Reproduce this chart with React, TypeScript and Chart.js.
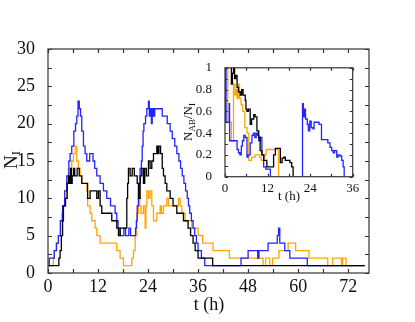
import React, { useEffect, useRef } from "react";
import { Chart, registerables } from "chart.js";
Chart.register(...registerables);

const FONT = '"Liberation Serif", "Times New Roman", serif';
const BLUE = "#2323ff";
const ORANGE = "#ffa500";
const BLACK = "#000000";
const FRAME = "#333333";

// ---- main panel: N_I(t) (step series: time of change, value after change)
const blackT = [0, 2.6, 2.9, 3.2, 3.5, 3.7, 4.2, 4.6, 4.9, 5.2, 5.4, 5.6, 5.8, 6.1, 6.4, 7.0, 7.5, 8.1, 9.5, 10.1, 11.7, 12.1, 12.5, 12.9, 15.3, 16.5, 16.9, 17.3, 18.9, 19.1, 19.3, 19.7, 20.2, 20.7, 21.4, 21.7, 22.1, 22.5, 22.9, 23.2, 23.6, 24.1, 24.5, 24.9, 25.3, 26.1, 26.4, 26.6, 27.0, 27.4, 27.7, 28.1, 28.5, 29.3, 30.0, 30.9, 32.5, 33.6, 34.2, 34.8, 35.3, 36.0, 39.5, 76.0];
const blackN = [1, 2, 3, 5, 7, 9, 10, 12, 13, 12, 14, 12, 13, 14, 13, 14, 13, 12, 10, 11, 10, 11, 9, 8, 7, 6, 5, 6, 10, 12, 14, 13, 14, 13, 12, 10, 13, 14, 12, 14, 13, 15, 14, 15, 16, 17, 16, 17, 16, 14, 13, 12, 11, 10, 9, 8, 7, 6, 5, 4, 3, 2, 1, 1];

const blueT = [0, 0.3, 1.5, 2.0, 2.5, 3.0, 3.5, 4.0, 4.5, 5.0, 5.3, 5.7, 6.2, 6.6, 6.9, 7.2, 7.5, 7.8, 8.1, 8.5, 8.9, 9.3, 10.0, 10.8, 11.2, 11.7, 12.5, 13.3, 14.1, 15.0, 16.1, 16.5, 16.8, 17.3, 18.2, 18.6, 19.4, 19.8, 21.0, 21.2, 21.4, 21.7, 21.9, 22.1, 22.4, 22.6, 22.8, 23.0, 23.4, 23.7, 24.1, 24.3, 24.6, 24.8, 25.0, 25.3, 25.6, 27.4, 28.6, 29.3, 29.8, 30.4, 30.9, 31.4, 31.8, 32.2, 32.6, 33.0, 33.4, 33.7, 34.0, 34.4, 34.8, 35.2, 35.6, 36.0, 36.8, 37.6, 46.3, 48.0, 50.3, 50.6, 52.8, 55.0, 55.3, 55.6, 56.8, 58.0, 62.2, 76.0];
const blueN = [1, 2, 3, 4, 5, 7, 9, 11, 13, 15, 16, 17, 19, 20, 21, 23, 22, 21, 19, 17, 16, 15, 16, 15, 14, 13, 12, 11, 10, 9, 8, 7, 6, 5, 6, 5, 6, 5, 6, 7, 9, 10, 12, 14, 15, 17, 19, 20, 21, 22, 23, 21, 22, 20, 22, 21, 22, 21, 20, 19, 18, 17, 16, 15, 14, 13, 12, 11, 10, 9, 8, 7, 6, 5, 4, 3, 2, 1, 2, 3, 2, 3, 4, 5, 6, 4, 3, 2, 1, 1];

const orangeT = [0, 1.3, 1.5, 2.1, 2.5, 2.9, 3.3, 3.7, 4.1, 4.5, 4.9, 5.7, 6.1, 6.5, 6.9, 7.3, 7.7, 8.1, 9.3, 9.5, 10.1, 10.5, 11.3, 11.7, 12.5, 16.5, 17.3, 18.1, 20.1, 20.5, 20.9, 21.3, 21.7, 22.0, 22.3, 22.9, 23.3, 23.5, 23.7, 24.1, 24.5, 24.9, 25.3, 26.1, 26.9, 27.2, 27.7, 28.5, 28.9, 31.3, 31.7, 32.1, 32.9, 34.5, 36.0, 37.1, 39.6, 43.5, 51.6, 52.2, 53.2, 53.9, 55.4, 57.6, 59.4, 62.6, 67.1, 68.3, 70.4, 70.7, 71.5, 73.4];
const orangeN = [1, 2, 3, 4, 5, 7, 8, 9, 10, 12, 14, 15, 16, 17, 15, 14, 13, 12, 11, 9, 8, 7, 6, 5, 4, 3, 2, 1, 2, 3, 5, 8, 11, 9, 8, 9, 6, 9, 11, 10, 11, 9, 7, 8, 9, 8, 9, 10, 9, 10, 9, 8, 7, 6, 5, 4, 3, 2, 1, 2, 1, 2, 3, 4, 3, 2, 1, 2, 1, 2, 1, 1];

// ---- inset: N_AB/N_I (t)
const insetBlueT = [0, 0.1, 0.15, 0.2, 0.25, 0.3, 1.2, 1.3, 3.4, 3.8, 4.2, 4.6, 4.9, 5.3, 5.7, 6.2, 6.5, 7.1, 7.6, 8.0, 8.4, 8.8, 9.2, 9.5, 9.9, 10.4, 10.9, 11.5, 12.8, 12.85, 21.8, 21.85, 22.1, 22.4, 22.7, 23.2, 23.5, 23.9, 24.3, 24.8, 25.1, 25.9, 26.5, 27.2, 28.6, 29.0, 29.6, 30.1, 30.5, 30.9, 31.5, 31.9, 32.4, 32.9, 33.3, 33.6];
const insetBlueV = [1, 0.5, 1, 0.5, 1, 0.5, 0.67, 0.33, 0.25, 0.22, 0.2, 0.28, 0.33, 0.38, 0.36, 0.18, 0.2, 0.31, 0.38, 0.4, 0.36, 0.4, 0.38, 0.33, 0.36, 0.2, 0.09, 0.07, 0, null, 0, 0.67, 0.55, 0.62, 0.53, 0.48, 0.42, 0.51, 0.45, 0.44, 0.5, 0.5, 0.48, 0.34, 0.34, 0.31, 0.27, 0.24, 0.22, 0.24, 0.18, 0.2, 0.19, 0.15, 0.09, 0];

const insetBlackT = [1.5, 1.8, 2.1, 2.4, 2.7, 3.0, 3.4, 3.8, 4.3, 4.7, 5.1, 5.7, 5.9, 6.2, 6.6, 7.1, 7.5, 8.1, 8.5, 9.0, 9.5, 9.9, 10.4, 10.9, 11.8, 13.7, 14.2, 15.6, 16.1, 16.6, 17.0, 18.3, 18.8, 19.2];
const insetBlackV = [1, 0.85, 0.95, 1, 0.9, 0.93, 0.82, 0.78, 0.75, 0.8, 0.75, 0.7, 0.62, 0.6, 0.62, 0.48, 0.53, 0.57, 0.55, 0.42, 0.36, 0.24, 0.2, 0.15, 0.09, 0.2, 0.26, 0.13, 0.17, 0.18, 0.15, 0.13, 0.09, 0];

const insetOrangeT = [0.7, 0.8, 1.8, 2.4, 2.8, 3.1, 3.4, 3.7, 4.1, 4.5, 5.0, 5.6, 6.2, 6.7, 7.5, 8.5, 9.8, 10.2, 10.8, 11.2, 11.6, 15.1];
const insetOrangeV = [1, 0.5, 0.33, 0.85, 0.75, 0.8, 0.72, 0.85, 0.72, 0.66, 0.6, 0.45, 0.4, 0.15, 0.18, 0.2, 0.18, 0.15, 0.17, 0.2, 0.25, 0];

const mainXLabelStep = 12;
const mainYLabelStep = 5;
const insetXLabelStep = 12;

function steps(t: number[], v: (number | null)[]) {
  return t.map((x, i) => ({ x, y: v[i] }));
}

function line(label: string, data: any, color: string) {
  return {
    label,
    data,
    borderColor: color,
    backgroundColor: color,
    borderWidth: 1.3,
    pointRadius: 0,
    stepped: true,
    spanGaps: false,
  };
}

type Part = { text: string; size: number; dy: number };

function drawRich(ctx: CanvasRenderingContext2D, cx: number, cy: number, parts: Part[], rotate: boolean) {
  ctx.save();
  ctx.translate(cx, cy);
  if (rotate) ctx.rotate(-Math.PI / 2);
  let total = 0;
  for (const p of parts) {
    ctx.font = `${p.size}px ${FONT}`;
    total += ctx.measureText(p.text).width;
  }
  let x = -total / 2;
  ctx.fillStyle = "#111";
  ctx.textBaseline = "middle";
  ctx.textAlign = "left";
  for (const p of parts) {
    ctx.font = `${p.size}px ${FONT}`;
    ctx.fillText(p.text, x, p.dy);
    x += ctx.measureText(p.text).width;
  }
  ctx.restore();
}

function framePlugin(id: string, xStep: number, yStep: number, tick: number, titles: (ctx: CanvasRenderingContext2D, chart: any) => void) {
  return {
    id,
    afterDatasetsDraw(chart: any) {
      const { ctx, chartArea: a, scales } = chart;
      const xs = scales.x;
      const ys = scales.y;
      ctx.save();
      ctx.strokeStyle = FRAME;
      ctx.lineWidth = 1.2;
      ctx.beginPath();
      for (let v = xs.min; v <= xs.max + 1e-9; v += xStep) {
        const px = Math.round(xs.getPixelForValue(v)) + 0.5;
        ctx.moveTo(px, a.bottom);
        ctx.lineTo(px, a.bottom - tick);
        ctx.moveTo(px, a.top);
        ctx.lineTo(px, a.top + tick);
      }
      for (let v = ys.min; v <= ys.max + 1e-9; v += yStep) {
        const py = Math.round(ys.getPixelForValue(v)) + 0.5;
        ctx.moveTo(a.left, py);
        ctx.lineTo(a.left + tick, py);
        ctx.moveTo(a.right, py);
        ctx.lineTo(a.right - tick, py);
      }
      ctx.stroke();
      ctx.strokeRect(a.left, a.top, a.right - a.left, a.bottom - a.top);
      ctx.restore();
      titles(ctx, chart);
    },
  };
}

export default function App() {
  const mainRef = useRef<HTMLCanvasElement | null>(null);
  const insetRef = useRef<HTMLCanvasElement | null>(null);

  useEffect(() => {
    if (!mainRef.current || !insetRef.current) return;

    const main = new Chart(mainRef.current, {
      type: "line",
      data: {
        datasets: [
          line("black", steps(blackT, blackN), BLACK),
          line("blue", steps(blueT, blueN), BLUE),
          line("orange", steps(orangeT, orangeN), ORANGE),
        ],
      },
      options: {
        animation: false,
        responsive: false,
        devicePixelRatio: 1,
        layout: { padding: { top: 49, right: 46, left: 0, bottom: 0 } },
        plugins: { legend: { display: false }, tooltip: { enabled: false } },
        scales: {
          x: {
            type: "linear",
            min: 0,
            max: 77,
            grid: { display: false },
            border: { display: false },
            afterFit: (s: any) => { s.height = 49; },
            ticks: {
              stepSize: 6,
              includeBounds: false,
              autoSkip: false,
              maxRotation: 0,
              padding: -5,
              color: "#111",
              font: { family: FONT, size: 18 },
              callback: (v: any) => (Math.round(v) % mainXLabelStep === 0 ? String(v) : ""),
            },
          },
          y: {
            type: "linear",
            min: 0,
            max: 30,
            grid: { display: false },
            border: { display: false },
            afterFit: (s: any) => { s.width = 48; },
            ticks: {
              stepSize: 2.5,
              autoSkip: false,
              padding: 5,
              color: "#111",
              font: { family: FONT, size: 18 },
              callback: (v: any) => (Math.abs(v % mainYLabelStep) < 1e-6 ? String(v) : ""),
            },
          },
        },
      },
      plugins: [
        framePlugin("mainFrame", 6, 2.5, 4, (ctx) => {
          drawRich(ctx, 209, 305, [
            { text: "t (h)", size: 18, dy: 0 },
          ], false);
          drawRich(ctx, 12, 160, [
            { text: "N", size: 19, dy: 0 },
            { text: "I", size: 13, dy: 5 },
          ], true);
        }),
      ],
    } as any);

    const inset = new Chart(insetRef.current, {
      type: "line",
      data: {
        datasets: [
          line("black", steps(insetBlackT, insetBlackV), BLACK),
          line("blue", steps(insetBlueT, insetBlueV), BLUE),
          line("orange", steps(insetOrangeT, insetOrangeV), ORANGE),
        ],
      },
      options: {
        animation: false,
        responsive: false,
        devicePixelRatio: 1,
        layout: { padding: { top: 10, right: 17.3, left: 0, bottom: 0 } },
        plugins: { legend: { display: false }, tooltip: { enabled: false } },
        scales: {
          x: {
            type: "linear",
            min: 0,
            max: 36,
            grid: { display: false },
            border: { display: false },
            afterFit: (s: any) => { s.height = 28.3; },
            ticks: {
              stepSize: 6,
              autoSkip: false,
              maxRotation: 0,
              padding: -4,
              color: "#111",
              font: { family: FONT, size: 13 },
              callback: (v: any) => (Math.round(v) % insetXLabelStep === 0 ? String(v) : ""),
            },
          },
          y: {
            type: "linear",
            min: 0,
            max: 1,
            grid: { display: false },
            border: { display: false },
            afterFit: (s: any) => { s.width = 55; },
            ticks: {
              stepSize: 0.1,
              autoSkip: false,
              padding: 5,
              color: "#111",
              font: { family: FONT, size: 13 },
              callback: (v: any) => {
                const k = Math.round(v * 10);
                return k % 2 === 0 ? String(k / 10) : "";
              },
            },
          },
        },
      },
      plugins: [
        framePlugin("insetFrame", 6, 0.1, 3, (ctx) => {
          drawRich(ctx, 119, 142, [
            { text: "t (h)", size: 13, dy: 0 },
          ], false);
          drawRich(ctx, 19, 67, [
            { text: "N", size: 13, dy: 0 },
            { text: "AB", size: 9, dy: 3.5 },
            { text: "/N", size: 13, dy: 0 },
            { text: "I", size: 9, dy: 3.5 },
          ], true);
        }),
      ],
    } as any);

    return () => {
      main.destroy();
      inset.destroy();
    };
  }, []);

  return (
    <div style={{ position: "fixed", left: 0, top: 0, width: 415, height: 322, background: "#fff" }}>
      <canvas ref={mainRef} width={415} height={322} style={{ position: "absolute", left: 0, top: 0, width: 415, height: 322 }} />
      <canvas ref={insetRef} width={200} height={150} style={{ position: "absolute", left: 170, top: 55, width: 200, height: 150 }} />
    </div>
  );
}
